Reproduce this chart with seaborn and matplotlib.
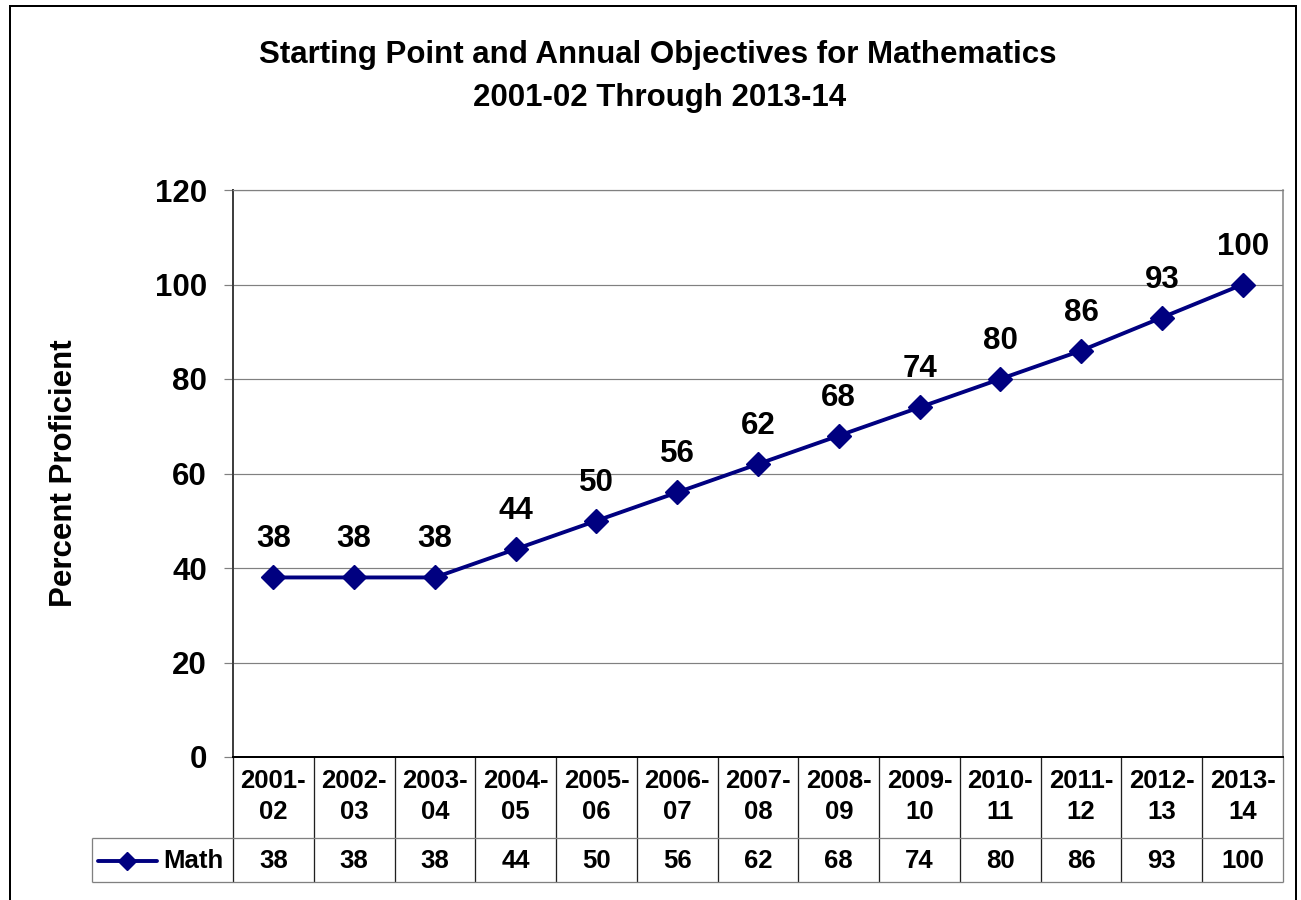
import numpy as np
import pandas as pd
import matplotlib
matplotlib.use("Agg")
import matplotlib.pyplot as plt
import seaborn as sns
from matplotlib.patches import Rectangle
from matplotlib.lines import Line2D

# ---- data -------------------------------------------------------------
periods = ["2001-02", "2002-03", "2003-04", "2004-05", "2005-06", "2006-07",
           "2007-08", "2008-09", "2009-10", "2010-11", "2011-12", "2012-13",
           "2013-14"]
math_values = [38, 38, 38, 44, 50, 56, 62, 68, 74, 80, 86, 93, 100]
series_name = "Math"
title_lines = ["Starting Point and Annual Objectives for Mathematics",
               "2001-02 Through 2013-14"]
y_label = "Percent Proficient"
y_ticks = [0, 20, 40, 60, 80, 100, 120]

# ---- style ------------------------------------------------------------
sns.set_theme(style="white")
plt.rcParams["font.family"] = ["Liberation Sans", "DejaVu Sans"]
plt.rcParams["font.weight"] = "bold"
plt.rcParams["text.color"] = "black"
plt.rcParams["axes.labelcolor"] = "black"
plt.rcParams["ytick.labelcolor"] = "black"
plt.rcParams["xtick.labelcolor"] = "black"

W, H = 1301, 900
NAVY = "#000080"
GRID = "#808080"
BIG = 22.5
SMALL = 18.5
PX = 0.72  # one pixel in points at dpi 100

fig = plt.figure(figsize=(W / 100, H / 100), dpi=100)
fig.patch.set_facecolor("white")

# plot area in pixel geometry
left, right, top, bottom = 233, 1283, 190, 757
ax = fig.add_axes([left / W, 1 - bottom / H, (right - left) / W, (bottom - top) / H])

df = pd.DataFrame({"period": np.arange(len(periods)), "value": math_values})
sns.lineplot(data=df, x="period", y="value", ax=ax, color=NAVY, lw=2.8,
             marker="D", markersize=12.5, markeredgecolor=NAVY,
             markerfacecolor=NAVY, markeredgewidth=1, zorder=3)

ax.set_xlim(-0.5, len(periods) - 0.5)
ax.set_ylim(0, 120)
ax.set_yticks(y_ticks)
ax.set_xticks([])
ax.set_xlabel("")
ax.set_ylabel("")
ax.yaxis.grid(True, color=GRID, lw=1.2 * PX, zorder=0)
ax.set_axisbelow(True)
ax.tick_params(axis="y", left=True, length=9 * PX, width=1.2 * PX,
               color=GRID, pad=17 * PX, labelsize=BIG, labelcolor="black")
for lab in ax.get_yticklabels():
    lab.set_fontweight("bold")
ax.spines["left"].set_color("#404040")
ax.spines["left"].set_linewidth(2 * PX)
ax.spines["bottom"].set_color("black")
ax.spines["bottom"].set_linewidth(2 * PX)
ax.spines["right"].set_color(GRID)
ax.spines["right"].set_linewidth(1.5 * PX)
ax.spines["top"].set_color(GRID)
ax.spines["top"].set_linewidth(1.2 * PX)

# value labels above each point
for i, v in enumerate(math_values):
    ax.annotate(str(v), (i, v), xytext=(0, 38 * PX), textcoords="offset points",
                ha="center", va="center", fontsize=BIG, fontweight="bold",
                color="black")

# ---- data table under the plot ----------------------------------------
axh = bottom - top
tr = ax.get_xaxis_transform()
y_hdr_bot = -(838 - bottom) / axh
y_tab_bot = -(882 - bottom) / axh
colw = (right - left) / len(periods)
x_leg = -0.5 - (left - 92) / colw
n = len(periods)

def hline(x0, x1, y, color, lw):
    ax.add_line(Line2D([x0, x1], [y, y], transform=tr, color=color, lw=lw,
                       clip_on=False, solid_capstyle="butt"))

def vline(x, y0, y1, color, lw):
    ax.add_line(Line2D([x, x], [y0, y1], transform=tr, color=color, lw=lw,
                       clip_on=False, solid_capstyle="butt"))

for k in range(n + 1):
    vline(k - 0.5, y_tab_bot, 0, "#202020" if k < n else GRID, 1.3 * PX)
vline(x_leg, y_tab_bot, y_hdr_bot, GRID, 1.3 * PX)
hline(x_leg, n - 0.5, y_hdr_bot, GRID, 1.3 * PX)
hline(x_leg, n - 0.5, y_tab_bot, GRID, 1.3 * PX)

y_l1 = -(781 - bottom) / axh
y_l2 = -(812 - bottom) / axh
y_val = -(861 - bottom) / axh
for i, p in enumerate(periods):
    a, b = p.split("-")
    ax.text(i, y_l1, a + "-", transform=tr, ha="center", va="center",
            fontsize=SMALL, fontweight="bold", color="black")
    ax.text(i, y_l2, b, transform=tr, ha="center", va="center",
            fontsize=SMALL, fontweight="bold", color="black")
    ax.text(i, y_val, str(math_values[i]), transform=tr, ha="center",
            va="center", fontsize=SMALL, fontweight="bold", color="black")

# legend key inside the table
kx0 = x_leg + (98 - 92) / colw
kx1 = x_leg + (157 - 92) / colw
ax.add_line(Line2D([kx0, kx1], [y_val, y_val], transform=tr, color=NAVY,
                   lw=2.8, clip_on=False))
ax.add_line(Line2D([(kx0 + kx1) / 2], [y_val], transform=tr, color=NAVY,
                   marker="D", markersize=9, clip_on=False))
ax.text(x_leg + (163 - 92) / colw, y_val, series_name, transform=tr,
        ha="left", va="center", fontsize=SMALL, fontweight="bold",
        color="black")

# ---- titles and frame -------------------------------------------------
fig.text(658 / W, 1 - 55 / H, title_lines[0], ha="center", va="center",
         fontsize=BIG, fontweight="bold", color="black")
fig.text(660 / W, 1 - 98 / H, title_lines[1], ha="center", va="center",
         fontsize=BIG, fontweight="bold", color="black")
fig.text(64 / W, 1 - 473 / H, y_label, rotation=90, ha="center",
         va="center", fontsize=BIG, fontweight="bold", color="black")

fig.add_artist(Rectangle((10 / W, 1 - 920 / H), (1296 - 10) / W, (920 - 6) / H,
                         transform=fig.transFigure, fill=False,
                         edgecolor="black", lw=2 * PX, clip_on=False))

fig.savefig("out.png", dpi=100, facecolor="white")
